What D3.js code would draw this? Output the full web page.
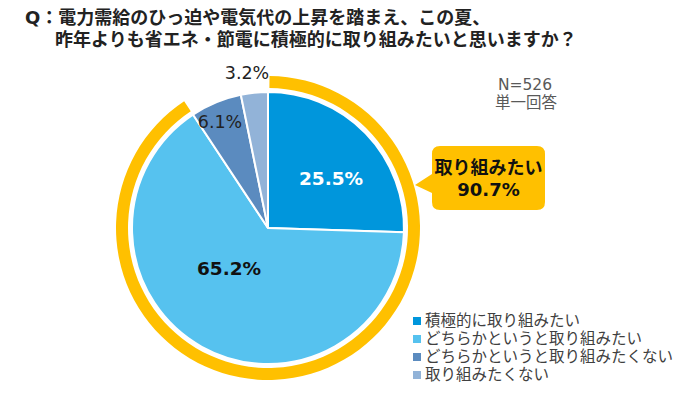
<!DOCTYPE html>
<html>
<head>
<meta charset="utf-8">
<script src="https://cdn.jsdelivr.net/npm/d3@7"></script>
<style>
  body { margin: 0; background: #fff; }
  text { font-family: "DejaVu Sans", "Noto Sans CJK JP", sans-serif; }
</style>
</head>
<body>
<svg id="chart" width="700" height="398"></svg>
<script>
// data
var categories = ["積極的に取り組みたい", "どちらかというと取り組みたい", "どちらかというと取り組みたくない", "取り組みたくない"];
var values = [25.5, 65.2, 6.1, 3.2];
var colors = ["#0096DC", "#56C2EF", "#5B8BBF", "#92B3D8"];
var titleLines = ["Q：電力需給のひっ迫や電気代の上昇を踏まえ、この夏、", "昨年よりも省エネ・節電に積極的に取り組みたいと思いますか？"];
var noteLines = ["N=526", "単一回答"];
var callout = ["取り組みたい", "90.7%"];
var ringShare = 90.7;

var svg = d3.select("#chart");
var cx = 268, cy = 228, r = 136;

// title
svg.append("text").attr("x", 25).attr("y", 24)
    .attr("font-size", 18).attr("font-weight", "bold").attr("fill", "#222")
    .text(titleLines[0]);
svg.append("text").attr("x", 55).attr("y", 46)
    .attr("font-size", 18).attr("font-weight", "bold").attr("fill", "#222")
    .text(titleLines[1]);

var g = svg.append("g").attr("transform", `translate(${cx},${cy})`);

// pie
var pie = d3.pie().sort(null).value(d => d);
var arcs = pie(values);
var arc = d3.arc().innerRadius(0).outerRadius(r);
g.selectAll("path.slice").data(arcs).enter().append("path")
    .attr("class", "slice")
    .attr("d", arc)
    .attr("fill", (d, i) => colors[i])
    .attr("stroke", "#fff").attr("stroke-width", 2);

// yellow ring for "取り組みたい"
var angle = d3.scaleLinear().domain([0, 100]).range([0, 2 * Math.PI]);
var ring = d3.arc().innerRadius(r + 4).outerRadius(r + 16)
    .startAngle(angle(0) + 0.01).endAngle(angle(ringShare));
g.append("path").attr("d", ring()).attr("fill", "#FFC000");

// slice labels
var labelPos = [
    {x: 63, y: -50, fill: "#fff", size: 18.5, weight: "bold"},
    {x: -39, y: 40, fill: "#111", size: 18.5, weight: "bold"},
    {x: -48, y: -106, fill: "#222", size: 17.5, weight: "normal"},
    {x: -21, y: -155, fill: "#222", size: 17.5, weight: "normal"}
];
g.selectAll("text.lbl").data(arcs).enter().append("text")
    .attr("class", "lbl")
    .attr("x", (d, i) => labelPos[i].x)
    .attr("y", (d, i) => labelPos[i].y)
    .attr("text-anchor", "middle").attr("dominant-baseline", "central")
    .attr("font-size", (d, i) => labelPos[i].size)
    .attr("font-weight", (d, i) => labelPos[i].weight)
    .attr("fill", (d, i) => labelPos[i].fill)
    .text(d => d.data.toFixed(1) + "%");

// N note
svg.append("text").attr("x", 525).attr("y", 85).attr("text-anchor", "middle")
    .attr("dominant-baseline", "central").attr("font-size", 15.5).attr("fill", "#595959")
    .text(noteLines[0]);
svg.append("text").attr("x", 526).attr("y", 103).attr("text-anchor", "middle")
    .attr("dominant-baseline", "central").attr("font-size", 15.5).attr("fill", "#595959")
    .text(noteLines[1]);

// callout bubble
var bx = 432, by = 146, bw = 113, bh = 64, rr = 8;
var bubble = d3.path();
bubble.moveTo(bx + rr, by);
bubble.lineTo(bx + bw - rr, by);
bubble.quadraticCurveTo(bx + bw, by, bx + bw, by + rr);
bubble.lineTo(bx + bw, by + bh - rr);
bubble.quadraticCurveTo(bx + bw, by + bh, bx + bw - rr, by + bh);
bubble.lineTo(bx + rr, by + bh);
bubble.quadraticCurveTo(bx, by + bh, bx, by + bh - rr);
bubble.lineTo(bx, by + 47);
bubble.lineTo(415, 185);
bubble.lineTo(bx, by + 28);
bubble.lineTo(bx, by + rr);
bubble.quadraticCurveTo(bx, by, bx + rr, by);
bubble.closePath();
svg.append("path").attr("d", bubble.toString()).attr("fill", "#FFC000");
svg.append("text").attr("x", bx + bw / 2).attr("y", 167).attr("text-anchor", "middle")
    .attr("dominant-baseline", "central").attr("font-size", 18).attr("font-weight", "bold")
    .attr("fill", "#111").text(callout[0]);
svg.append("text").attr("x", bx + bw / 2).attr("y", 189).attr("text-anchor", "middle")
    .attr("dominant-baseline", "central").attr("font-size", 18).attr("font-weight", "bold")
    .attr("fill", "#111").text(callout[1]);

// legend
var legend = svg.append("g").attr("transform", "translate(413,321)");
var rows = legend.selectAll("g").data(categories).enter().append("g")
    .attr("transform", (d, i) => `translate(0,${i * 18})`);
rows.append("rect").attr("x", 0).attr("y", -4).attr("width", 8).attr("height", 8)
    .attr("fill", (d, i) => colors[i]);
rows.append("text").attr("x", 12).attr("y", 0).attr("dominant-baseline", "central")
    .attr("font-size", 15.5).attr("fill", "#404040").text(d => d);
</script>
</body>
</html>
